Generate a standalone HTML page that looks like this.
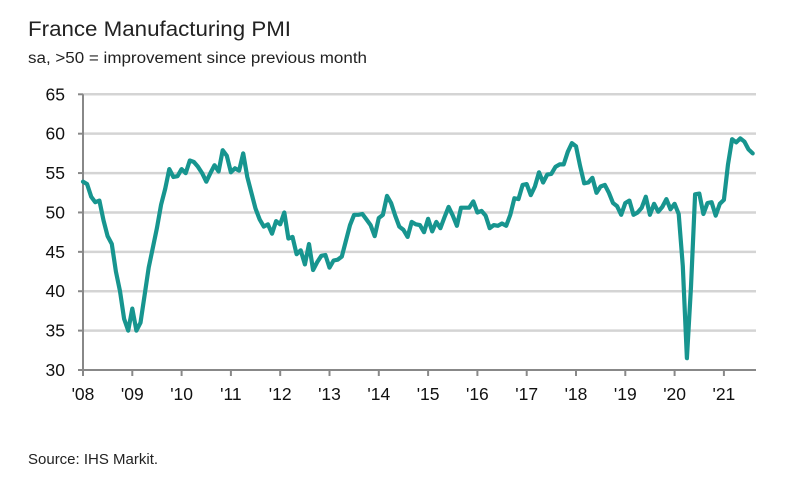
<!DOCTYPE html>
<html><head><meta charset="utf-8"><style>
body{margin:0;background:#fff;}
svg{display:block;font-family:"Liberation Sans",sans-serif;}
</style></head><body>
<svg id="chart" width="795" height="486" viewBox="0 0 795 486">
<rect width="795" height="486" fill="#fff"/>
<text x="28" y="36" font-size="21" fill="#222" textLength="263" lengthAdjust="spacingAndGlyphs">France Manufacturing PMI</text>
<text x="28" y="63" font-size="15.5" fill="#222" textLength="339" lengthAdjust="spacingAndGlyphs">sa, &gt;50 = improvement since previous month</text>
<g id="grid"></g>
<g id="axes"></g>
<path id="line" fill="none" stroke="#17958f" stroke-width="4.2" stroke-linejoin="round" stroke-linecap="round"/>
<text x="28" y="464" font-size="15" fill="#222">Source: IHS Markit.</text>
</svg>
<script>
const yTicks=[30,35,40,45,50,55,60,65];
const xLabels=["'08","'09","'10","'11","'12","'13","'14","'15","'16","'17","'18","'19","'20","'21"];
const pmi=[53.9,53.6,52.0,51.3,51.5,49.0,47.0,46.0,42.5,40.0,36.5,35.0,
37.8,35.0,36.0,39.5,43.0,45.5,48.0,51.0,53.0,55.5,54.5,54.6,
55.5,55.0,56.6,56.4,55.8,55.0,53.9,55.0,56.0,55.2,57.9,57.2,
55.1,55.6,55.3,57.5,54.5,52.5,50.5,49.1,48.2,48.5,47.3,48.9,
48.5,50.0,46.7,46.9,44.7,45.2,43.4,46.0,42.7,43.7,44.5,44.6,
43.0,43.9,44.0,44.4,46.4,48.4,49.7,49.7,49.8,49.1,48.4,47.0,
49.3,49.7,52.1,51.2,49.6,48.2,47.8,46.9,48.8,48.5,48.4,47.5,
49.2,47.6,48.8,48.0,49.4,50.7,49.6,48.3,50.6,50.6,50.6,51.4,
50.0,50.2,49.6,48.0,48.4,48.3,48.6,48.3,49.7,51.8,51.7,53.5,
53.6,52.2,53.3,55.1,53.8,54.8,54.9,55.8,56.1,56.1,57.7,58.8,
58.4,55.9,53.7,53.8,54.4,52.5,53.3,53.5,52.5,51.2,50.8,49.7,
51.2,51.5,49.7,50.0,50.6,52.0,49.7,51.1,50.1,50.7,51.7,50.4,
51.1,49.8,43.2,31.5,40.6,52.3,52.4,49.8,51.2,51.3,49.6,51.1,
51.6,56.1,59.3,58.9,59.4,59.0,58.0,57.5];
const NS='http://www.w3.org/2000/svg';
const x0=83,x1=756,yBot=370,yTop=94.3,yrW=49.3;
const X=i=>x0+i*yrW/12;
const Y=v=>yBot-(v-30)/35*(yBot-yTop);
const grid=document.getElementById('grid'),axes=document.getElementById('axes');
yTicks.forEach(t=>{
 if(t>30){const l=document.createElementNS(NS,'line');
 
 
 l.setAttribute('x1',x0);l.setAttribute('x2',x1);l.setAttribute('y1',Y(t));l.setAttribute('y2',Y(t));
 l.setAttribute('stroke','#d4d4d4');l.setAttribute('stroke-width','2.5');grid.appendChild(l);}
 const tk=document.createElementNS(NS,'line');
 
 
 tk.setAttribute('x1',x0-5);tk.setAttribute('x2',x0);tk.setAttribute('y1',Y(t));tk.setAttribute('y2',Y(t));
 tk.setAttribute('stroke','#888');tk.setAttribute('stroke-width','2');axes.appendChild(tk);
 const tx=document.createElementNS(NS,'text');
 
 
 tx.setAttribute('x',65);tx.setAttribute('y',Y(t)+6);tx.setAttribute('text-anchor','end');
 tx.setAttribute('font-size','17.5');tx.setAttribute('fill','#111');tx.textContent=t;axes.appendChild(tx);
});
const ya=document.createElementNS(NS,'line');


ya.setAttribute('x1',x0);ya.setAttribute('x2',x0);ya.setAttribute('y1',yTop);ya.setAttribute('y2',yBot+6);
ya.setAttribute('stroke','#888');ya.setAttribute('stroke-width','2');axes.appendChild(ya);
const xa=document.createElementNS(NS,'line');


xa.setAttribute('x1',x0);xa.setAttribute('x2',x1);xa.setAttribute('y1',yBot);xa.setAttribute('y2',yBot);
xa.setAttribute('stroke','#888');xa.setAttribute('stroke-width','2');axes.appendChild(xa);
xLabels.forEach((s,k)=>{
 const xx=X(k*12);
 const tk=document.createElementNS(NS,'line');
 
 
 tk.setAttribute('x1',xx);tk.setAttribute('x2',xx);tk.setAttribute('y1',yBot);tk.setAttribute('y2',yBot+6);
 tk.setAttribute('stroke','#888');tk.setAttribute('stroke-width','2');axes.appendChild(tk);
 const tx=document.createElementNS(NS,'text');
 
 
 tx.setAttribute('x',xx);tx.setAttribute('y',yBot+30);tx.setAttribute('text-anchor','middle');
 tx.setAttribute('font-size','17.5');tx.setAttribute('fill','#111');tx.textContent=s;axes.appendChild(tx);
});
document.getElementById('line').setAttribute('d',pmi.map((v,i)=>(i?'L':'M')+X(i).toFixed(1)+' '+Y(v).toFixed(1)).join(''));
</script>
</body></html>
